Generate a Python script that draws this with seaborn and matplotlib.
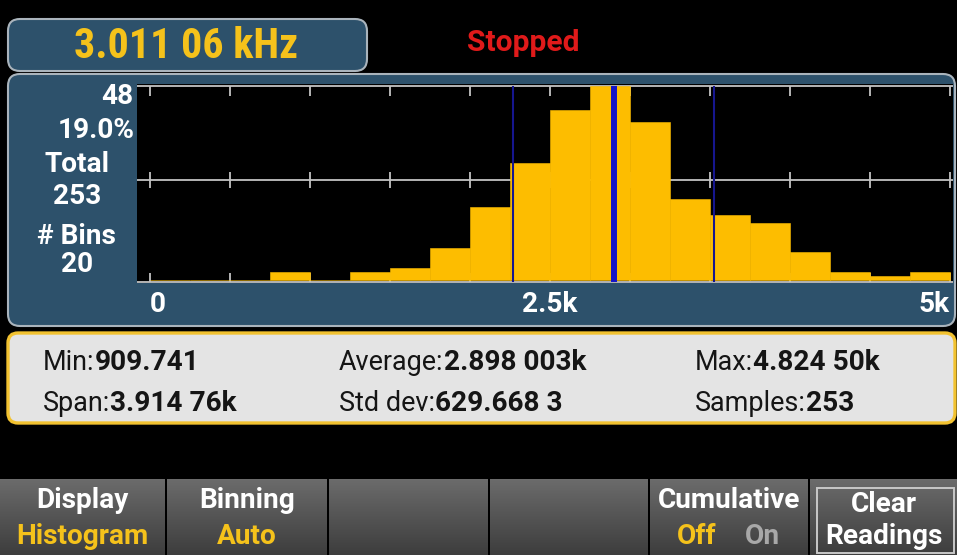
import numpy as np
import pandas as pd
import matplotlib
matplotlib.use("Agg")
import matplotlib.pyplot as plt
from matplotlib.patches import FancyBboxPatch, Rectangle
from matplotlib import font_manager
from matplotlib.font_manager import FontProperties
import seaborn as sns

# ---- histogram data (20 bins of 250 Hz) ----
bin_edges = np.arange(0, 5001, 250)
bin_counts = [0, 0, 0, 2, 0, 2, 3, 8, 18, 29, 42, 48, 39, 20, 16, 14, 7, 2, 1, 2]
x_tick_values = [0, 2500, 5000]
x_tick_labels = ["0", "2.5k", "5k"]
grid_tick_values = np.arange(0, 5001, 500)

mean_hz = 2898.003
std_hz = 629.6683

reading_text = "3.011 06 kHz"
status_text = "Stopped"

side_labels = ["48", "19.0%", "Total", "253", "# Bins", "20"]

stat_labels = ["Min:", "Average:", "Max:", "Span:", "Std dev:", "Samples:"]
stat_values = ["909.741", "2.898 003k", "4.824 50k", "3.914 76k", "629.668 3", "253"]

softkey_top = ["Display", "Binning", "", "", "Cumulative", "Clear"]
softkey_bottom = ["Histogram", "Auto", "", "", "", "Readings"]

# ---- colours ----
PANEL = "#2d516b"
PANEL_EDGE = "#aab4bc"
BAR = "#fdbd00"
GOLD = "#f5c21b"
GRID = "#c4c4c4"

sns.set_style("dark")
available = {f.name for f in font_manager.fontManager.ttflist}
BOLDF = "Roboto" if "Roboto" in available else "DejaVu Sans"
plt.rcParams["font.family"] = [BOLDF, "DejaVu Sans"]


def condensed_bold():
    """pick a narrow bold face for the main reading, if one is installed"""
    for name in ["Liberation Sans Narrow", "DejaVu Sans Condensed",
                 "Roboto Condensed", "Noto Sans Condensed", "Open Sans Condensed"]:
        if name in available:
            return FontProperties(family=name, weight="bold"), True
    for f in font_manager.fontManager.ttflist:
        if str(f.stretch) in ("condensed", "semi-condensed") and \
                str(f.weight) in ("bold", "700"):
            return FontProperties(fname=f.fname), True
    return FontProperties(family=BOLDF, weight="bold"), False


def px(p):
    """font size in points for an em height given in pixels (dpi 100)"""
    return p * 0.72


W, H = 957, 555
fig = plt.figure(figsize=(W / 100, H / 100), dpi=100, facecolor="black")
bg = fig.add_axes([0, 0, 1, 1])
bg.set_xlim(0, W)
bg.set_ylim(H, 0)
bg.axis("off")
bg.set_facecolor("black")


def rbox(x0, y0, x1, y1, fc, ec, lw, r, z=1):
    p = FancyBboxPatch((x0, y0), x1 - x0, y1 - y0,
                       boxstyle=f"round,pad=0,rounding_size={r}",
                       fc=fc, ec=ec, lw=lw, zorder=z)
    bg.add_patch(p)
    return p


# main histogram panel and reading box
rbox(8, 74, 955, 326, PANEL, PANEL_EDGE, 1.5, 12)
rbox(8, 19, 367, 71, PANEL, PANEL_EDGE, 1.5, 12)

read_fp, is_narrow = condensed_bold()
read_fp = read_fp.copy()
read_fp.set_size(px(42) if is_narrow else px(36))
bg.text(186, 46, reading_text, color=GOLD, fontproperties=read_fp,
        ha="center", va="center", zorder=3)
bg.text(523, 43, status_text, color="#e01a1a", fontsize=px(30), fontweight="bold",
        ha="center", va="center", zorder=3)

# labels left of the histogram
side_pos = [(133, 97, "right"), (135, 130, "right"), (77, 165, "center"),
            (77, 196, "center"), (76, 236, "center"), (77, 265, "center")]
for txt, (x, y, ha) in zip(side_labels, side_pos):
    bg.text(x, y, txt, color="white", fontsize=px(28), fontweight="bold",
            ha=ha, va="center", zorder=3)

# ---- histogram axes ----
L, R, T, B = 137, 953, 84, 283
ax = fig.add_axes([L / W, 1 - B / H, (R - L) / W, (B - T) / H], zorder=5)
ax.set_facecolor("black")

hist_df = pd.DataFrame({
    "freq": (bin_edges[:-1] + bin_edges[1:]) / 2,
    "count": bin_counts,
})
sns.histplot(data=hist_df, x="freq", weights="count",
             binwidth=float(bin_edges[1] - bin_edges[0]),
             binrange=(float(bin_edges[0]), float(bin_edges[-1])), ax=ax,
             color=BAR, alpha=1, edgecolor=BAR, linewidth=0.4, zorder=3)

x_per_px = 5000 / 800.0
y_per_px = 48 / 194.0
ax.set_xlim(-(150 - L) * x_per_px, 5000 + (R - 950) * x_per_px)
ax.set_ylim(-(B - 280) * y_per_px, 48 + (86 - T) * y_per_px)

ymax = max(bin_counts)
mid = 100 * y_per_px
base = -1.5 * y_per_px
for yy in (ymax, mid, base):
    ax.axhline(yy, color=GRID, lw=1.3, zorder=1)
ax.vlines(grid_tick_values, ymax - 10 * y_per_px, ymax, color=GRID, lw=1.3, zorder=1)
ax.vlines(grid_tick_values, mid - 8 * y_per_px, mid + 8 * y_per_px, color=GRID, lw=1.3, zorder=1)
ax.vlines(grid_tick_values, base, base + 9 * y_per_px, color=GRID, lw=1.3, zorder=1)

# mean and +/- one standard deviation markers
ax.vlines([mean_hz], base, ymax, color="#1414c8", lw=4.3, zorder=4)
ax.vlines([mean_hz - std_hz, mean_hz + std_hz], base, ymax, color="#16168e", lw=1.5, zorder=4)

ax.set_xticks([])
ax.set_yticks([])
ax.set_xlabel("")
ax.set_ylabel("")
for s in ax.spines.values():
    s.set_visible(False)

# x labels under the histogram
for v, lab, ha in zip(x_tick_values, x_tick_labels, ["left", "center", "right"]):
    xp = 150 + v / x_per_px
    bg.text(xp, 305, lab, color="white", fontsize=px(28), fontweight="bold",
            ha=ha, va="center", zorder=3)

# ---- statistics panel ----
rbox(8, 333, 955, 423, "#e4e4e4", "#f2c230", 2.4, 10)
stat_cols = [43, 339, 695]
stat_rows = [370, 411]
for i, (lab, val) in enumerate(zip(stat_labels, stat_values)):
    col, row = i % 3, i // 3
    t = bg.text(stat_cols[col], stat_rows[row], lab, color="#151515",
                fontsize=px(27), ha="left", va="baseline", zorder=3)
    bg.annotate(val, xy=(1, 0), xycoords=t, color="#151515",
                fontsize=px(28), fontweight="bold",
                ha="left", va="bottom", zorder=3)

# ---- softkey bar ----
key_edges = [(0, 165), (167, 327), (329, 488), (490, 648), (650, 808), (810, 957)]
grad = np.linspace(0, 1, 64)
top_c = np.array([0.42, 0.42, 0.42])
bot_c = np.array([0.24, 0.24, 0.24])
img = (top_c[None, :] + (bot_c - top_c)[None, :] * grad[:, None]).reshape(64, 1, 3)
for x0, x1 in key_edges:
    bg.imshow(img, extent=(x0, x1, 555, 479), aspect="auto", zorder=1,
              interpolation="bilinear")
bg.set_xlim(0, W)
bg.set_ylim(H, 0)
bg.add_patch(Rectangle((817, 488), 137, 65, fill=False, ec="#c8c8c8", lw=1.4, zorder=2))

key_centers = [(a + b) / 2 for a, b in key_edges]
for cx, top, bottom in zip(key_centers, softkey_top, softkey_bottom):
    if top:
        ytop = 505 if top == "Clear" else 501
        bg.text(cx, ytop, top, color="white", fontsize=px(28), fontweight="bold",
                ha="center", va="center", zorder=3)
    if bottom:
        col = "white" if bottom == "Readings" else GOLD
        bg.text(cx, 537, bottom, color=col, fontsize=px(28), fontweight="bold",
                ha="center", va="center", zorder=3)
bg.text(697, 537, "Off", color=GOLD, fontsize=px(28), fontweight="bold",
        ha="center", va="center", zorder=3)
bg.text(762, 537, "On", color="#a8a8a8", fontsize=px(28), fontweight="bold",
        ha="center", va="center", zorder=3)

fig.savefig("out.png", dpi=100, facecolor="black")
